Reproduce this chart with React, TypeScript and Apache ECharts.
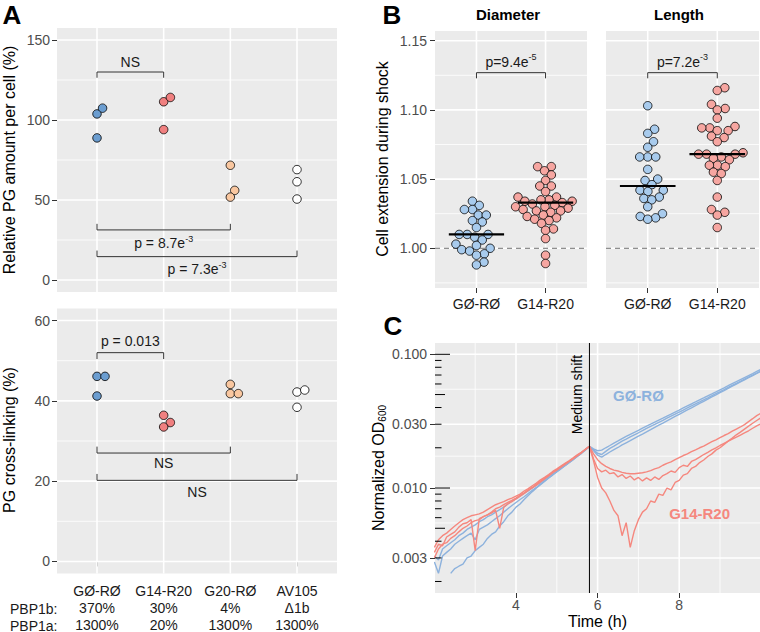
import React, { useEffect, useRef } from 'react';
import * as echarts from 'echarts';

// ---------------- data ----------------
const STRAINS_A = ['GØ-RØ', 'G14-R20', 'G20-RØ', 'AV105'];
const PBP1B_LEVELS = ['370%', '30%', '4%', 'Δ1b'];
const PBP1A_LEVELS = ['1300%', '20%', '1300%', '1300%'];
const STRAINS_B = ['GØ-RØ', 'G14-R20'];

// Panel A top: relative PG amount per cell (%)
const PG_G0R0 = [88.8, 103.8, 107.4];
const PG_G14R20 = [94.0, 111.4, 114.1];
const PG_G20R0 = [71.7, 56.0, 51.8];
const PG_AV105 = [69.0, 61.4, 50.6];
// Panel A bottom: PG cross-linking (%)
const XL_G0R0 = [46.1, 46.1, 41.2];
const XL_G14R20 = [36.4, 34.6, 33.5];
const XL_G20R0 = [44.1, 41.8, 41.8];
const XL_AV105 = [42.2, 42.7, 38.4];

const PG_TICKS = [0, 50, 100, 150];
const PG_MINOR = [25, 75, 125];
const XL_TICKS = [0, 20, 40, 60];
const XL_MINOR = [10, 30, 50];

// brackets: [from, to, line y, tip y, label y]
const PG_BRACKETS = [[1, 2, 130, 126.4, 136.4], [1, 3, 31.3, 35.1, 23.0], [1, 4, 14.6, 18.4, 6.7]];
const PG_BRACKET_LABELS = ['NS', 'p = 8.7e{sup|-3}', 'p = 7.3e{sup|-3}'];
const XL_BRACKETS = [[1, 2, 52.0, 50.4, 54.8], [1, 3, 27.0, 28.6, 24.5], [1, 4, 20.2, 21.8, 17.4]];
const XL_BRACKET_LABELS = ['p = 0.013', 'NS', 'NS'];

// Panel B: cell extension during shock
const DIAM_G0R0 = [1.034, 1.031, 1.028, 1.028, 1.024, 1.024, 1.020, 1.019, 1.015, 1.010, 1.010, 1.010, 1.008, 1.006, 1.003, 1.002, 1.000, 0.999, 0.998, 0.996, 0.995, 0.990, 0.988];
const DIAM_G14R20 = [1.059, 1.059, 1.056, 1.053, 1.049, 1.045, 1.045, 1.041, 1.037, 1.037, 1.035, 1.035, 1.034, 1.034, 1.033, 1.032, 1.031, 1.030, 1.030, 1.029, 1.028, 1.027, 1.027, 1.026, 1.024, 1.023, 1.022, 1.021, 1.020, 1.018, 1.014, 1.013, 1.007, 0.995, 0.989];
const LEN_G0R0 = [1.103, 1.086, 1.083, 1.077, 1.073, 1.066, 1.066, 1.066, 1.057, 1.050, 1.049, 1.046, 1.042, 1.042, 1.041, 1.037, 1.036, 1.035, 1.030, 1.025, 1.023, 1.022, 1.021];
const LEN_G14R20 = [1.116, 1.114, 1.104, 1.101, 1.100, 1.094, 1.088, 1.087, 1.087, 1.085, 1.085, 1.081, 1.080, 1.077, 1.069, 1.068, 1.068, 1.068, 1.066, 1.065, 1.064, 1.060, 1.060, 1.059, 1.055, 1.054, 1.049, 1.037, 1.028, 1.026, 1.024, 1.015];
const DIAM_MEDIANS = [1.010, 1.033];
const LEN_MEDIANS = [1.045, 1.068];
const EXT_TICKS = [1.0, 1.05, 1.1, 1.15];
const EXT_MINOR = [0.975, 1.025, 1.075, 1.125];
const EXT_REFERENCE = 1.0;
const DIAM_BRACKET = [[1, 2, 1.1269, 1.1228, 1.1348]];
const DIAM_BRACKET_LABEL = ['p=9.4e{sup|-5}'];
const LEN_BRACKET = [[1, 2, 1.1269, 1.1228, 1.1348]];
const LEN_BRACKET_LABEL = ['p=7.2e{sup|-3}'];

// Panel C: normalized OD600 over time
const TIME_H = [
  2.0, 2.1, 2.2, 2.3, 2.4, 2.5, 2.6, 2.7, 2.8, 2.9,
  3.0, 3.1, 3.2, 3.3, 3.4, 3.5, 3.6, 3.7, 3.8, 3.9,
  4.0, 4.1, 4.2, 4.3, 4.4, 4.5, 4.6, 4.7, 4.8, 4.9,
  5.0, 5.1, 5.2, 5.3, 5.4, 5.5, 5.6, 5.7, 5.8, 5.9,
  6.0, 6.1, 6.2, 6.3, 6.4, 6.5, 6.6, 6.7, 6.8, 6.9,
  7.0, 7.1, 7.2, 7.3, 7.4, 7.5, 7.6, 7.7, 7.8, 7.9,
  8.0, 8.1, 8.2, 8.3, 8.4, 8.5, 8.6, 8.7, 8.8, 8.9,
  9.0, 9.1, 9.2, 9.3, 9.4, 9.5, 9.6, 9.7, 9.8, 9.9,
  10.0,
];
const OD_G0R0_1 = [
  null, null, null, null, 0.0023, 0.0025, 0.0026, 0.0027, 0.0030, 0.0031,
  0.0034, 0.0036, 0.0038, 0.0042, 0.0045, 0.0047, 0.0052, 0.0056, 0.0062, 0.0066,
  0.0072, 0.0076, 0.0082, 0.0088, 0.0094, 0.0100, 0.0106, 0.0112, 0.0119, 0.0125,
  0.0132, 0.0139, 0.0147, 0.0155, 0.0163, 0.0172, 0.0181, 0.0192, 0.0204, 0.0190,
  0.0176, 0.0170, 0.0178, 0.0186, 0.0194, 0.0201, 0.0210, 0.0218, 0.0226, 0.0235,
  0.0244, 0.0253, 0.0263, 0.0273, 0.0284, 0.0295, 0.0306, 0.0318, 0.0330, 0.0343,
  0.0356, 0.0370, 0.0384, 0.0398, 0.0413, 0.0429, 0.0445, 0.0462, 0.0480, 0.0498,
  0.0517, 0.0536, 0.0556, 0.0577, 0.0599, 0.0622, 0.0645, 0.0669, 0.0694, 0.0720,
  0.0746,
];
const OD_G0R0_2 = [
  0.0028, 0.0023, 0.0031, 0.0033, 0.0035, 0.0038, 0.0040, 0.0042, 0.0044, 0.0046,
  0.0041, 0.0049, 0.0051, 0.0053, 0.0056, 0.0059, 0.0062, 0.0066, 0.0070, 0.0074,
  0.0078, 0.0082, 0.0086, 0.0091, 0.0096, 0.0101, 0.0107, 0.0113, 0.0119, 0.0126,
  0.0133, 0.0140, 0.0147, 0.0155, 0.0163, 0.0172, 0.0182, 0.0193, 0.0205, 0.0193,
  0.0182, 0.0178, 0.0188, 0.0198, 0.0206, 0.0215, 0.0224, 0.0232, 0.0241, 0.0250,
  0.0259, 0.0269, 0.0279, 0.0289, 0.0299, 0.0310, 0.0321, 0.0333, 0.0345, 0.0357,
  0.0370, 0.0383, 0.0397, 0.0411, 0.0426, 0.0441, 0.0457, 0.0473, 0.0490, 0.0508,
  0.0526, 0.0545, 0.0565, 0.0585, 0.0606, 0.0628, 0.0651, 0.0674, 0.0698, 0.0723,
  0.0750,
];
const OD_G0R0_3 = [
  0.0031, 0.0029, 0.0035, 0.0037, 0.0039, 0.0041, 0.0044, 0.0046, 0.0049, 0.0051,
  0.0053, 0.0056, 0.0058, 0.0061, 0.0063, 0.0066, 0.0069, 0.0072, 0.0076, 0.0080,
  0.0083, 0.0087, 0.0091, 0.0095, 0.0100, 0.0105, 0.0110, 0.0116, 0.0122, 0.0128,
  0.0134, 0.0141, 0.0148, 0.0156, 0.0164, 0.0173, 0.0183, 0.0194, 0.0205, 0.0196,
  0.0190, 0.0192, 0.0200, 0.0208, 0.0217, 0.0225, 0.0234, 0.0243, 0.0252, 0.0261,
  0.0270, 0.0280, 0.0290, 0.0300, 0.0311, 0.0322, 0.0333, 0.0345, 0.0357, 0.0370,
  0.0383, 0.0397, 0.0411, 0.0425, 0.0440, 0.0456, 0.0472, 0.0489, 0.0506, 0.0524,
  0.0543, 0.0562, 0.0582, 0.0603, 0.0624, 0.0646, 0.0669, 0.0693, 0.0718, 0.0744,
  0.0770,
];
const OD_G14R20_1 = [
  0.0036, 0.0041, 0.0044, 0.0046, 0.0049, 0.0052, 0.0055, 0.0058, 0.0060, 0.0062,
  0.0063, 0.0064, 0.0066, 0.0069, 0.0072, 0.0075, 0.0077, 0.0079, 0.0082, 0.0084,
  0.0087, 0.0090, 0.0095, 0.0099, 0.0104, 0.0109, 0.0115, 0.0120, 0.0126, 0.0133,
  0.0139, 0.0146, 0.0153, 0.0160, 0.0168, 0.0177, 0.0185, 0.0195, 0.0205, 0.0180,
  0.0163, 0.0152, 0.0145, 0.0140, 0.0136, 0.0134, 0.0131, 0.0129, 0.0128, 0.0128,
  0.0129, 0.0130, 0.0132, 0.0135, 0.0139, 0.0142, 0.0148, 0.0153, 0.0157, 0.0163,
  0.0169, 0.0175, 0.0180, 0.0187, 0.0193, 0.0200, 0.0206, 0.0214, 0.0222, 0.0229,
  0.0238, 0.0247, 0.0255, 0.0266, 0.0276, 0.0286, 0.0298, 0.0314, 0.0330, 0.0348,
  0.0362,
];
const OD_G14R20_2 = [
  0.0033, 0.0038, 0.0037, 0.0043, 0.0045, 0.0047, 0.0051, 0.0054, 0.0055, 0.0058,
  0.0034, 0.0059, 0.0061, 0.0063, 0.0066, 0.0070, 0.0072, 0.0075, 0.0078, 0.0081,
  0.0084, 0.0088, 0.0092, 0.0097, 0.0101, 0.0107, 0.0112, 0.0118, 0.0124, 0.0131,
  0.0137, 0.0144, 0.0151, 0.0158, 0.0166, 0.0175, 0.0184, 0.0194, 0.0205, 0.0165,
  0.0140, 0.0132, 0.0136, 0.0128, 0.0130, 0.0121, 0.0126, 0.0118, 0.0123, 0.0115,
  0.0120, 0.0113, 0.0119, 0.0114, 0.0121, 0.0116, 0.0124, 0.0128, 0.0134, 0.0131,
  0.0142, 0.0148, 0.0145, 0.0158, 0.0163, 0.0170, 0.0178, 0.0185, 0.0193, 0.0200,
  0.0208, 0.0216, 0.0224, 0.0232, 0.0240, 0.0249, 0.0258, 0.0268, 0.0280, 0.0292,
  0.0302,
];
const OD_G14R20_3 = [
  0.0030, 0.0035, 0.0038, 0.0039, 0.0042, 0.0044, 0.0047, 0.0050, 0.0052, 0.0055,
  0.0057, 0.0058, 0.0061, 0.0063, 0.0065, 0.0068, 0.0050, 0.0072, 0.0076, 0.0079,
  0.0083, 0.0087, 0.0091, 0.0096, 0.0100, 0.0105, 0.0111, 0.0117, 0.0123, 0.0130,
  0.0136, 0.0143, 0.0150, 0.0158, 0.0166, 0.0174, 0.0183, 0.0194, 0.0205, 0.0160,
  0.0120, 0.0100, 0.0092, 0.0080, 0.0068, 0.0062, 0.0044, 0.0055, 0.0036, 0.0048,
  0.0058, 0.0066, 0.0070, 0.0080, 0.0078, 0.0090, 0.0088, 0.0100, 0.0097, 0.0110,
  0.0114, 0.0125, 0.0128, 0.0140, 0.0145, 0.0155, 0.0162, 0.0172, 0.0180, 0.0192,
  0.0200, 0.0212, 0.0224, 0.0236, 0.0250, 0.0262, 0.0276, 0.0290, 0.0305, 0.0320,
  0.0335,
];
const OD_TICKS = [0.003, 0.01, 0.03, 0.1];
const OD_MINOR = [0.00548, 0.0173, 0.0548];
const OD_LOG_TICKS = [0.002, 0.003, 0.004, 0.005, 0.006, 0.007, 0.008, 0.009, 0.01, 0.02, 0.03, 0.04, 0.05, 0.06, 0.07, 0.08, 0.09, 0.1];
const TIME_TICKS = [4, 6, 8];
const TIME_MINOR = [3, 5, 7, 9];
const SHIFT_TIME = 5.8;
const SHIFT_LABEL = 'Medium shift';
const CURVE_LABELS = ['GØ-RØ', 'G14-R20'];
const CURVE_LABEL_TIME = [7.0, 8.5];
const CURVE_LABEL_OD = [0.049, 0.0064];

// ---------------- layout / style ----------------
const FONT = '"Liberation Sans", Arial, Helvetica, sans-serif';
const PANEL_BG = '#EBEBEB';
const TICK_TEXT = '#4D4D4D';
const DARK_TEXT = '#1A1A1A';
const COL_A = ['#6b9dd0', '#f08080', '#f9c7a0', '#ffffff'];
const COL_B = ['#a8cbed', '#f6a6a1'];
const COL_C_BLUE = '#8db2dd';
const COL_C_RED = '#f5877e';

const GRIDS = [
  { left: 57, top: 28, width: 280, height: 264 },
  { left: 57, top: 308.5, width: 280, height: 265 },
  { left: 435, top: 31, width: 152, height: 257 },
  { left: 606, top: 31, width: 153, height: 257 },
  { left: 435, top: 343, width: 325, height: 250 },
];
const X_A = [0.4, 4.6];
const Y_A1 = [-7.5, 157.5];
const Y_A2 = [-3, 63];
const X_B = [0.4, 2.6];
const Y_B = [0.9713, 1.157];
const X_C = [2.015, 9.98];
const Y_C = [0.00164, 0.1215];
const PT = 8.5;

function swarm(vals: number[], pxY: number, pxX: number, d = 8): number[] {
  const order = vals.map((_, i) => i).sort((a, b) => vals[a] - vals[b]);
  const placed: { x: number; y: number }[] = [];
  const out = new Array(vals.length).fill(0);
  for (const i of order) {
    const y = vals[i] * pxY;
    const cands = [0];
    for (const p of placed) {
      const dy = Math.abs(p.y - y);
      if (dy < d) {
        const dx = Math.sqrt(d * d - dy * dy);
        cands.push(p.x + dx + 0.01, p.x - dx - 0.01);
      }
    }
    cands.sort((a, b) => Math.abs(a) - Math.abs(b) || b - a);
    let best = 0;
    for (const c of cands) {
      if (placed.every((p) => (p.x - c) ** 2 + (p.y - y) ** 2 >= d * d - 0.05)) { best = c; break; }
    }
    placed.push({ x: best, y });
    out[i] = best / pxX;
  }
  return out;
}

function segSeries(idx: number, segs: number[][], stroke: string, lineWidth: number, z: number, dash?: number[]) {
  return {
    type: 'custom', xAxisIndex: idx, yAxisIndex: idx, silent: true, z,
    data: segs, encode: { x: 0, y: 1 },
    renderItem: (_p: any, api: any) => {
      const a = api.coord([api.value(0), api.value(1)]);
      const b = api.coord([api.value(2), api.value(3)]);
      return { type: 'line', shape: { x1: a[0], y1: a[1], x2: b[0], y2: b[1] }, style: { stroke, lineWidth, lineDash: dash || null } };
    },
  };
}

function gridLines(idx: number, xr: number[], yr: number[], xMajor: number[], yMajor: number[], xMinor: number[], yMinor: number[]) {
  const maj = xMajor.map((x) => [x, yr[0], x, yr[1]]).concat(yMajor.map((y) => [xr[0], y, xr[1], y]));
  const min = xMinor.map((x) => [x, yr[0], x, yr[1]]).concat(yMinor.map((y) => [xr[0], y, xr[1], y]));
  return [segSeries(idx, min, '#ffffff', 0.8, 1), segSeries(idx, maj, '#ffffff', 1.6, 1)];
}

function bracketSeries(idx: number, rows: number[][], labels: string[]) {
  return {
    type: 'custom', xAxisIndex: idx, yAxisIndex: idx, silent: true, z: 5,
    data: rows, encode: { x: 0, y: 2 },
    renderItem: (params: any, api: any) => {
      const x1 = api.value(0), x2 = api.value(1), y = api.value(2), tip = api.value(3), ty = api.value(4);
      const a = api.coord([x1, tip]), b = api.coord([x1, y]), c = api.coord([x2, y]), d = api.coord([x2, tip]);
      const t = api.coord([(x1 + x2) / 2, ty]);
      return {
        type: 'group',
        children: [
          { type: 'polyline', shape: { points: [a, b, c, d] }, style: { stroke: '#333333', lineWidth: 1, fill: null } },
          {
            type: 'text', x: t[0], y: t[1],
            style: {
              text: labels[params.dataIndex], align: 'center', verticalAlign: 'middle',
              fontSize: 14, fontFamily: FONT, fill: DARK_TEXT, lineHeight: 18,
              rich: { sup: { fontSize: 9, lineHeight: 9, verticalAlign: 'top', fill: DARK_TEXT, fontFamily: FONT } },
            },
          },
        ],
      };
    },
  };
}

function scatter(idx: number, vals: number[], cat: number, offs: number[], color: string) {
  return {
    type: 'scatter', xAxisIndex: idx, yAxisIndex: idx, z: 3, silent: true,
    symbol: 'circle', symbolSize: PT,
    itemStyle: { color, borderColor: '#000000', borderWidth: 0.8, opacity: 1 },
    data: vals.map((v, i) => [cat + offs[i], v]),
  };
}

function medianSeries(idx: number, medians: number[]) {
  return {
    type: 'custom', xAxisIndex: idx, yAxisIndex: idx, silent: true, z: 6,
    data: medians.map((m, i) => [i + 1, m]), encode: { x: 0, y: 1 },
    renderItem: (_p: any, api: any) => {
      const a = api.coord([api.value(0) - 0.4, api.value(1)]);
      const b = api.coord([api.value(0) + 0.4, api.value(1)]);
      return { type: 'line', shape: { x1: a[0], y1: a[1], x2: b[0], y2: b[1] }, style: { stroke: '#000000', lineWidth: 2.2 } };
    },
  };
}

function axisBase(idx: number, range: number[], ticks: number[] | null, fmt: any, labelOpts: any, tickShow = true) {
  return {
    type: 'value', gridIndex: idx, min: range[0], max: range[1],
    axisLine: { show: false },
    splitLine: { show: false },
    minorSplitLine: { show: false },
    axisTick: ticks && tickShow ? { show: true, length: 5, customValues: ticks, lineStyle: { color: '#333333', width: 1 } } : { show: false },
    axisLabel: ticks ? { show: true, customValues: ticks, formatter: fmt, fontFamily: FONT, fontSize: 14, ...labelOpts } : { show: false },
  };
}

function odPairs(vals: (number | null)[]) {
  const out: number[][] = [];
  vals.forEach((v, i) => { if (v !== null) out.push([TIME_H[i], v]); });
  return out;
}

function odLine(vals: (number | null)[], color: string) {
  return {
    type: 'line', xAxisIndex: 4, yAxisIndex: 4, z: 3, silent: true,
    showSymbol: false, symbol: 'none', clip: true,
    lineStyle: { color, width: 1.4 },
    data: odPairs(vals),
  };
}

function buildOption() {
  const pxA1 = [GRIDS[0].height / (Y_A1[1] - Y_A1[0]), GRIDS[0].width / (X_A[1] - X_A[0])];
  const pxA2 = [GRIDS[1].height / (Y_A2[1] - Y_A2[0]), GRIDS[1].width / (X_A[1] - X_A[0])];
  const pxBD = [GRIDS[2].height / (Y_B[1] - Y_B[0]), GRIDS[2].width / (X_B[1] - X_B[0])];
  const pxBL = [GRIDS[3].height / (Y_B[1] - Y_B[0]), GRIDS[3].width / (X_B[1] - X_B[0])];
  const pg = [PG_G0R0, PG_G14R20, PG_G20R0, PG_AV105];
  const xl = [XL_G0R0, XL_G14R20, XL_G20R0, XL_AV105];
  const catsA = STRAINS_A.map((_, i) => i + 1);
  const catsB = STRAINS_B.map((_, i) => i + 1);

  const series: any[] = [];
  // grid lines
  series.push(...gridLines(0, X_A, Y_A1, catsA, PG_TICKS, [], PG_MINOR));
  series.push(...gridLines(1, X_A, Y_A2, catsA, XL_TICKS, [], XL_MINOR));
  series.push(...gridLines(2, X_B, Y_B, catsB, EXT_TICKS, [], EXT_MINOR));
  series.push(...gridLines(3, X_B, Y_B, catsB, EXT_TICKS, [], EXT_MINOR));
  series.push(...gridLines(4, X_C, Y_C, TIME_TICKS, OD_TICKS, TIME_MINOR, OD_MINOR));

  // panel A points
  pg.forEach((vals, k) => series.push(scatter(0, vals, k + 1, swarm(vals, pxA1[0], pxA1[1]), COL_A[k])));
  xl.forEach((vals, k) => series.push(scatter(1, vals, k + 1, swarm(vals, pxA2[0], pxA2[1]), COL_A[k])));
  series.push(bracketSeries(0, PG_BRACKETS, PG_BRACKET_LABELS));
  series.push(bracketSeries(1, XL_BRACKETS, XL_BRACKET_LABELS));

  // panel B
  series.push(segSeries(2, [[X_B[0], EXT_REFERENCE, X_B[1], EXT_REFERENCE]], '#6e6e6e', 1, 2, [5, 4]));
  series.push(segSeries(3, [[X_B[0], EXT_REFERENCE, X_B[1], EXT_REFERENCE]], '#6e6e6e', 1, 2, [5, 4]));
  series.push(scatter(2, DIAM_G0R0, 1, swarm(DIAM_G0R0, pxBD[0], pxBD[1]), COL_B[0]));
  series.push(scatter(2, DIAM_G14R20, 2, swarm(DIAM_G14R20, pxBD[0], pxBD[1]), COL_B[1]));
  series.push(scatter(3, LEN_G0R0, 1, swarm(LEN_G0R0, pxBL[0], pxBL[1]), COL_B[0]));
  series.push(scatter(3, LEN_G14R20, 2, swarm(LEN_G14R20, pxBL[0], pxBL[1]), COL_B[1]));
  series.push(medianSeries(2, DIAM_MEDIANS));
  series.push(medianSeries(3, LEN_MEDIANS));
  series.push(bracketSeries(2, DIAM_BRACKET, DIAM_BRACKET_LABEL));
  series.push(bracketSeries(3, LEN_BRACKET, LEN_BRACKET_LABEL));

  // panel C
  series.push(odLine(OD_G0R0_1, COL_C_BLUE));
  series.push(odLine(OD_G0R0_2, COL_C_BLUE));
  series.push(odLine(OD_G0R0_3, COL_C_BLUE));
  series.push(odLine(OD_G14R20_1, COL_C_RED));
  series.push(odLine(OD_G14R20_2, COL_C_RED));
  series.push(odLine(OD_G14R20_3, COL_C_RED));
  series.push(segSeries(4, [[SHIFT_TIME, Y_C[0], SHIFT_TIME, Y_C[1]]], '#000000', 1, 5));
  // log ticks
  series.push({
    type: 'custom', xAxisIndex: 4, yAxisIndex: 4, silent: true, z: 5,
    data: OD_LOG_TICKS.map((v) => [X_C[0], v]), encode: { x: 0, y: 1 },
    renderItem: (_p: any, api: any) => {
      const v = api.value(1);
      const mant = Math.round(v / Math.pow(10, Math.floor(Math.log10(v) + 1e-9)));
      const len = mant === 1 ? 15 : mant === 5 ? 10 : 6.5;
      const p = api.coord([api.value(0), v]);
      return { type: 'line', shape: { x1: p[0], y1: p[1], x2: p[0] + len, y2: p[1] }, style: { stroke: '#000000', lineWidth: 1 } };
    },
  });
  // annotations in C
  series.push({
    type: 'custom', xAxisIndex: 4, yAxisIndex: 4, silent: true, z: 6,
    data: [[SHIFT_TIME, 0.05]], encode: { x: 0, y: 1 },
    renderItem: (_p: any, api: any) => {
      const p = api.coord([api.value(0), api.value(1)]);
      return { type: 'text', x: p[0] - 12, y: p[1], rotation: Math.PI / 2, style: { text: SHIFT_LABEL, align: 'center', verticalAlign: 'middle', fontSize: 14, fontFamily: FONT, fill: '#000000' } };
    },
  });
  series.push({
    type: 'custom', xAxisIndex: 4, yAxisIndex: 4, silent: true, z: 6,
    data: CURVE_LABEL_TIME.map((t, i) => [t, CURVE_LABEL_OD[i]]), encode: { x: 0, y: 1 },
    renderItem: (params: any, api: any) => {
      const p = api.coord([api.value(0), api.value(1)]);
      const i = params.dataIndex;
      return { type: 'text', x: p[0], y: p[1], style: { text: CURVE_LABELS[i], align: 'center', verticalAlign: 'middle', fontSize: 15, fontWeight: 'bold', fontFamily: FONT, fill: i === 0 ? COL_C_BLUE : COL_C_RED } };
    },
  });

  const xAxis = [
    axisBase(0, X_A, null, null, {}),
    axisBase(1, X_A, catsA, (v: number) => {
      const i = Math.round(v) - 1;
      return `${STRAINS_A[i]}\n${PBP1B_LEVELS[i]}\n${PBP1A_LEVELS[i]}`;
    }, { color: DARK_TEXT, margin: 9, lineHeight: 17 }),
    axisBase(2, X_B, catsB, (v: number) => STRAINS_B[Math.round(v) - 1], { color: DARK_TEXT, margin: 7.5, lineHeight: 16 }),
    axisBase(3, X_B, catsB, (v: number) => STRAINS_B[Math.round(v) - 1], { color: DARK_TEXT, margin: 7.5, lineHeight: 16 }),
    axisBase(4, X_C, TIME_TICKS, (v: number) => String(Math.round(v)), { color: TICK_TEXT, margin: 5, lineHeight: 14 }),
  ];
  const yAxis: any[] = [
    axisBase(0, Y_A1, PG_TICKS, (v: number) => String(Math.round(v)), { color: TICK_TEXT, margin: 7 }),
    axisBase(1, Y_A2, XL_TICKS, (v: number) => String(Math.round(v)), { color: TICK_TEXT, margin: 7 }),
    axisBase(2, Y_B, EXT_TICKS, (v: number) => v.toFixed(2), { color: TICK_TEXT, margin: 8 }),
    axisBase(3, Y_B, null, null, {}),
    {
      ...axisBase(4, Y_C, OD_TICKS, (v: number) => v.toFixed(3), { color: TICK_TEXT, margin: 8 }),
      type: 'log', logBase: 10,
    },
  ];

  const txt = (text: string, x: number, y: number, fontSize: number, extra: any = {}, rot = 0) => ({
    type: 'text', x, y, rotation: rot, z: 10, silent: true,
    style: { text, fontSize, fontFamily: FONT, fill: '#000000', align: 'center', verticalAlign: 'middle', ...extra },
  });

  const graphic = [
    txt('A', 12, 15, 26, { fontWeight: 'bold', lineHeight: 26 }),
    txt('B', 392, 15, 26, { fontWeight: 'bold', lineHeight: 26 }),
    txt('C', 393, 326, 26, { fontWeight: 'bold', lineHeight: 26 }),
    txt('Diameter', 508, 14.5, 15, { fontWeight: 'bold' }),
    txt('Length', 679, 14.5, 15, { fontWeight: 'bold' }),
    txt('Relative PG amount per cell (%)', 9.5, 160, 16, {}, Math.PI / 2),
    txt('PG cross-linking (%)', 9.5, 440, 16, {}, Math.PI / 2),
    txt('Cell extension during shock', 382, 159, 16, {}, Math.PI / 2),
    txt('Normalized OD{sub|600}', 378, 468, 16, { lineHeight: 18, rich: { sub: { fontSize: 10, lineHeight: 10, verticalAlign: 'bottom', fontFamily: FONT, fill: '#000000' } } }, Math.PI / 2),
    txt('Time (h)', 597.5, 621, 16),
    txt('PBP1b:', 10, 608.5, 14, { align: 'left', fill: DARK_TEXT }),
    txt('PBP1a:', 10, 625.5, 14, { align: 'left', fill: DARK_TEXT }),
  ];

  return {
    animation: false,
    backgroundColor: '#ffffff',
    textStyle: { fontFamily: FONT },
    grid: GRIDS.map((g) => ({ ...g, show: true, backgroundColor: PANEL_BG, borderWidth: 0, containLabel: false, outerBoundsMode: 'none' })),
    xAxis,
    yAxis,
    graphic,
    series,
  };
}

export default function App() {
  const ref = useRef<HTMLDivElement>(null);
  useEffect(() => {
    if (!ref.current) return;
    const chart = echarts.init(ref.current, undefined, { renderer: 'svg' });
    chart.setOption(buildOption() as any);
    return () => chart.dispose();
  }, []);
  return <div ref={ref} style={{ position: 'absolute', left: 0, top: 0, width: 760, height: 632, background: '#fff' }} />;
}
